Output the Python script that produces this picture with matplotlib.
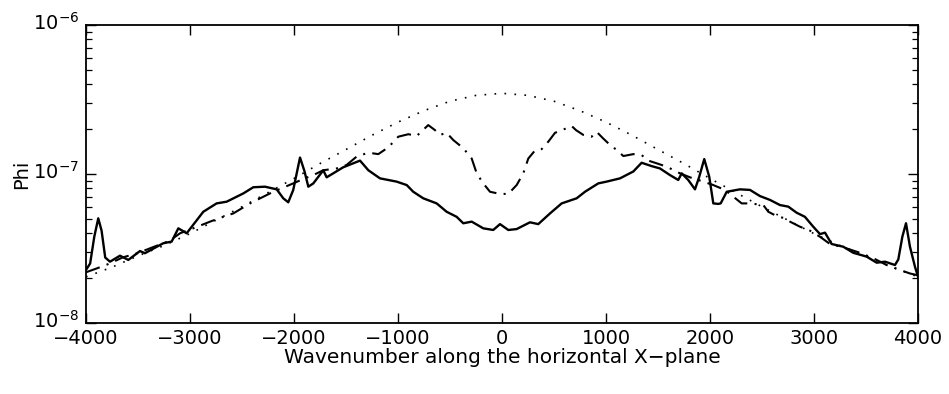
import numpy as np
import matplotlib
matplotlib.use("Agg")
import matplotlib.pyplot as plt
import matplotlib.transforms as mtransforms
from matplotlib.ticker import LogLocator, FixedLocator

plt.rcParams['font.family'] = ['DejaVu Sans']
plt.rcParams['mathtext.fontset'] = 'dejavusans'

# values, Phi in units of 1e-8
x_solid = [-4000, -3960, -3920, -3882, -3850, -3815, -3769, -3673, -3593, -3481,
           -3433, -3257, -3176, -3112, -3032, -2872, -2744, -2647, -2487, -2391,
           -2279, -2166, -2103, -2055, -2007, -1942, -1900, -1862, -1814, -1718,
           -1686, -1526, -1365, -1285, -1173, -1013, -916, -853, -757, -628,
           -532, -436, -372, -291, -180, -84, -19, 61, 141, 269,
           349, 462, 574, 718, 798, 926, 1006, 1135, 1263, 1343,
           1439, 1519, 1615, 1695, 1728, 1791, 1856, 1897, 1945, 1993,
           2032, 2080, 2103, 2161, 2288, 2385, 2481, 2577, 2673, 2753,
           2833, 2913, 2993, 3058, 3106, 3170, 3282, 3378, 3506, 3603,
           3683, 3779, 3811, 3850, 3885, 3923, 3971, 4000]
phi_solid = [2.27, 2.51, 3.80, 5.04, 4.17, 2.75, 2.58, 2.83, 2.65, 3.04,
             2.94, 3.43, 3.52, 4.32, 4.00, 5.58, 6.35, 6.52, 7.41, 8.15,
             8.22, 7.89, 6.87, 6.46, 7.82, 12.9, 10.5, 8.22, 8.65, 10.6,
             9.50, 11.1, 12.3, 10.6, 9.35, 8.89, 8.43, 7.60, 6.87, 6.35,
             5.58, 5.16, 4.67, 4.79, 4.32, 4.21, 4.61, 4.21, 4.27, 4.74,
             4.61, 5.44, 6.35, 6.87, 7.60, 8.65, 8.89, 9.35, 10.4, 11.9,
             11.3, 10.9, 9.84, 9.12, 10.1, 9.12, 7.89, 9.59, 12.6, 9.59,
             6.35, 6.30, 6.35, 7.60, 7.89, 7.82, 7.11, 6.70, 6.19, 6.04,
             5.50, 5.16, 4.43, 3.95, 4.04, 3.39, 3.25, 2.96, 2.79, 2.54,
             2.58, 2.45, 2.67, 3.80, 4.67, 3.25, 2.39, 2.05]

x_dashdot = [-4000, -3900, -3770, -3650, -3500, -3350, -3200, -3096, -2950, -2807,
             -2680, -2583, -2423, -2199, -2007, -1900, -1814, -1718, -1590, -1494,
             -1397, -1285, -1189, -1093, -997, -900, -820, -709, -644, -596,
             -532, -468, -372, -291, -243, -180, -115, -19, 61, 141,
             205, 253, 318, 382, 446, 510, 558, 622, 670, 712,
             782, 862, 910, 974, 1038, 1103, 1167, 1263, 1343, 1407,
             1487, 1584, 1712, 1808, 1936, 2032, 2144, 2224, 2305, 2385,
             2513, 2561, 2641, 2721, 2769, 2865, 2961, 3058, 3154, 3282,
             3442, 3571, 3699, 3827, 3923, 4000]
phi_dashdot = [2.19, 2.32, 2.51, 2.75, 2.95, 3.24, 3.55, 4.00, 4.37, 4.79,
               5.16, 5.44, 6.35, 7.60, 8.65, 9.33, 9.84, 10.6, 10.9, 11.5,
               13.1, 13.9, 13.6, 15.1, 17.8, 18.5, 18.0, 21.3, 19.7, 18.3,
               18.9, 16.9, 14.9, 12.7, 10.1, 8.65, 7.60, 7.35, 7.35, 8.43,
               10.1, 12.7, 14.4, 14.7, 16.5, 18.9, 19.5, 20.3, 21.0, 19.7,
               18.3, 17.8, 19.2, 17.3, 15.7, 14.5, 13.2, 13.6, 13.4, 12.3,
               11.8, 11.2, 10.1, 9.50, 8.89, 8.43, 7.82, 7.05, 6.35, 6.35,
               6.19, 5.58, 5.22, 5.04, 4.79, 4.43, 4.17, 3.79, 3.39, 3.22,
               2.96, 2.72, 2.45, 2.27, 2.15, 2.09]

x_dotted = [-4000, -3750, -3500, -3250, -3000, -2750, -2500, -2250, -2000, -1750,
            -1500, -1250, -1000, -750, -500, -250, 0, 250, 500, 750,
            1000, 1250, 1500, 1750, 2000, 2250, 2500, 2750, 3000, 3250,
            3500, 3750, 4000]
phi_dotted = [2.04, 2.37, 2.82, 3.31, 3.98, 4.90, 6.03, 7.50, 9.33, 11.75,
              14.6, 18.2, 22.3, 26.6, 30.8, 33.7, 34.8, 33.7, 30.8, 26.6,
              22.3, 18.2, 14.6, 11.75, 9.33, 7.50, 6.03, 4.90, 3.98, 3.31,
              2.82, 2.37, 2.04]

scale = 1e-8

fig = plt.figure(figsize=(9.49, 3.94), dpi=100)
ax = fig.add_axes([0.0906, 0.1802, 0.8767, 0.7563])

ax.semilogy(x_solid, np.array(phi_solid) * scale, '-', color='black', lw=1.7)
ax.semilogy(x_dashdot, np.array(phi_dashdot) * scale, color='black', lw=1.5,
            dashes=(7, 3.5, 1, 3.5))
ax.semilogy(x_dotted, np.array(phi_dotted) * scale, color='black', lw=1.2,
            linestyle=(0, (1, 5)))

ax.set_xlim(-4000, 4000)
ax.set_ylim(1e-8, 1e-6)
ax.xaxis.set_major_locator(FixedLocator(np.arange(-4000, 4001, 1000)))
ax.yaxis.set_major_locator(LogLocator(base=10, numticks=5))
ax.yaxis.set_minor_locator(LogLocator(base=10, subs=np.arange(2, 10), numticks=10))
ax.tick_params(which='both', direction='in', top=True, right=True,
               labelsize=14, pad=4)
ax.tick_params(axis='y', which='major', pad=5)
ax.tick_params(which='major', length=7, width=1.0)
ax.tick_params(which='minor', length=4, width=0.9)
ax.tick_params(axis='x', which='minor', bottom=False, top=False)
for s in ax.spines.values():
    s.set_linewidth(1.3)

# lift the y labels a bit so the "10" sits on the tick like the original
shift = mtransforms.ScaledTranslation(0, 4 / 100, fig.dpi_scale_trans)
for lab in ax.get_yticklabels():
    lab.set_transform(lab.get_transform() + shift)

ax.set_xlabel('Wavenumber along the horizontal X\u2212plane', fontsize=14.5, labelpad=0)
ax.set_ylabel('Phi', fontsize=14, labelpad=1)

fig.savefig('out.png', dpi=100)
